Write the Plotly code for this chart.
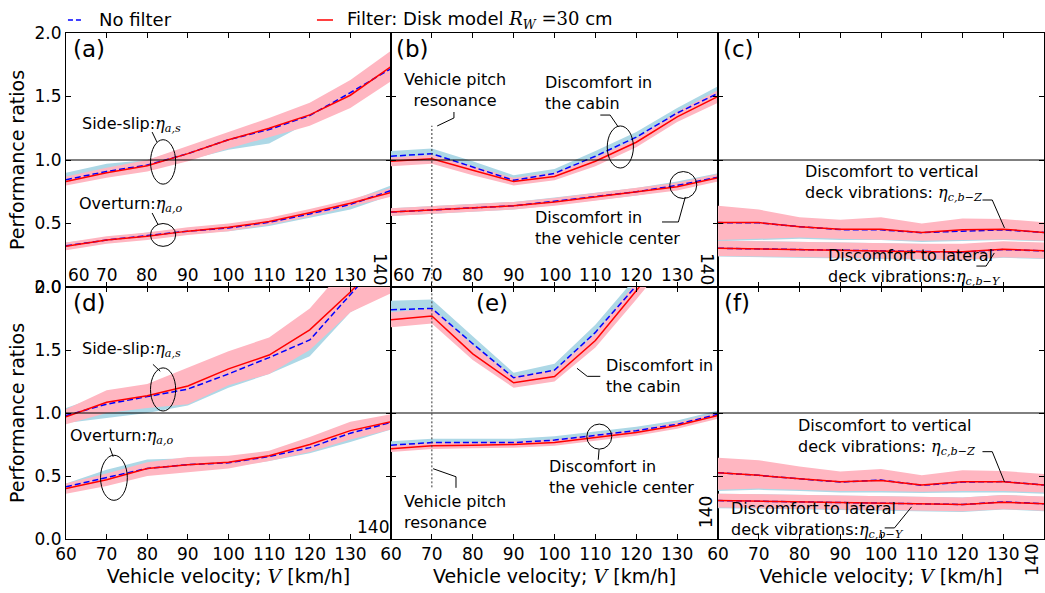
import plotly.graph_objects as go
from plotly.subplots import make_subplots

V = [60, 70, 80, 90, 100, 110, 120, 130, 140]
TICK_LABELS = ["60", "70", "80", "90", "100", "110", "120", "130"]

# ---- (a) aerodynamic safety, weak wind ----
a_ss_nf = [0.845, 0.91, 0.96, 1.05, 1.16, 1.24, 1.35, 1.53, 1.72]
a_ss_nf_lo = [0.82, 0.88, 0.93, 1.00, 1.08, 1.13, 1.30, 1.47, 1.65]
a_ss_nf_hi = [0.90, 0.97, 1.00, 1.10, 1.21, 1.32, 1.42, 1.60, 1.80]
a_ss_f = [0.83, 0.90, 0.955, 1.05, 1.16, 1.25, 1.355, 1.51, 1.735]
a_ss_f_lo = [0.80, 0.86, 0.91, 0.99, 1.09, 1.18, 1.27, 1.41, 1.62]
a_ss_f_hi = [0.87, 0.94, 1.00, 1.11, 1.22, 1.33, 1.45, 1.63, 1.86]

a_ov_nf = [0.325, 0.37, 0.405, 0.44, 0.465, 0.51, 0.575, 0.65, 0.76]
a_ov_nf_lo = [0.30, 0.345, 0.38, 0.42, 0.44, 0.48, 0.545, 0.61, 0.72]
a_ov_nf_hi = [0.35, 0.39, 0.43, 0.46, 0.49, 0.53, 0.60, 0.68, 0.80]
a_ov_f = [0.32, 0.37, 0.40, 0.44, 0.47, 0.515, 0.585, 0.66, 0.745]
a_ov_f_lo = [0.29, 0.34, 0.37, 0.41, 0.44, 0.49, 0.555, 0.63, 0.71]
a_ov_f_hi = [0.35, 0.40, 0.43, 0.47, 0.50, 0.545, 0.615, 0.69, 0.78]

# ---- (b) comfort ----
b_cab_nf = [1.03, 1.05, 0.945, 0.84, 0.895, 1.03, 1.18, 1.37, 1.525]
b_cab_nf_lo = [0.99, 1.01, 0.91, 0.81, 0.86, 0.99, 1.14, 1.33, 1.48]
b_cab_nf_hi = [1.07, 1.09, 0.99, 0.88, 0.93, 1.07, 1.22, 1.41, 1.58]
b_cab_f = [0.99, 1.01, 0.92, 0.83, 0.87, 0.99, 1.14, 1.34, 1.50]
b_cab_f_lo = [0.95, 0.97, 0.88, 0.80, 0.84, 0.95, 1.10, 1.30, 1.45]
b_cab_f_hi = [1.02, 1.04, 0.95, 0.86, 0.90, 1.02, 1.17, 1.38, 1.55]

b_ctr_nf = [0.59, 0.605, 0.625, 0.64, 0.675, 0.715, 0.75, 0.80, 0.865]
b_ctr_nf_lo = [0.56, 0.575, 0.595, 0.61, 0.645, 0.685, 0.72, 0.77, 0.835]
b_ctr_nf_hi = [0.62, 0.635, 0.655, 0.67, 0.705, 0.745, 0.78, 0.83, 0.895]
b_ctr_f = [0.59, 0.605, 0.625, 0.64, 0.67, 0.71, 0.745, 0.79, 0.86]
b_ctr_f_lo = [0.56, 0.575, 0.595, 0.61, 0.64, 0.68, 0.715, 0.76, 0.83]
b_ctr_f_hi = [0.62, 0.635, 0.655, 0.67, 0.70, 0.74, 0.775, 0.82, 0.89]

# ---- (c) bridge deck ----
c_z_nf = [0.507, 0.505, 0.475, 0.452, 0.45, 0.428, 0.44, 0.45, 0.43]
c_z_nf_lo = [0.36, 0.37, 0.38, 0.37, 0.37, 0.355, 0.36, 0.37, 0.36]
c_z_nf_hi = [0.63, 0.60, 0.54, 0.52, 0.54, 0.49, 0.53, 0.53, 0.50]
c_z_f = [0.507, 0.507, 0.475, 0.455, 0.455, 0.43, 0.45, 0.455, 0.43]
c_z_f_lo = [0.37, 0.38, 0.39, 0.38, 0.375, 0.365, 0.37, 0.375, 0.365]
c_z_f_hi = [0.64, 0.61, 0.55, 0.53, 0.55, 0.50, 0.54, 0.535, 0.51]

c_y_nf = [0.305, 0.30, 0.29, 0.286, 0.283, 0.276, 0.275, 0.295, 0.285]
c_y_nf_lo = [0.24, 0.235, 0.225, 0.22, 0.215, 0.21, 0.21, 0.23, 0.22]
c_y_nf_hi = [0.365, 0.36, 0.35, 0.345, 0.345, 0.34, 0.335, 0.355, 0.345]
c_y_f = [0.305, 0.30, 0.29, 0.286, 0.283, 0.278, 0.278, 0.297, 0.286]
c_y_f_lo = [0.245, 0.24, 0.23, 0.225, 0.22, 0.215, 0.215, 0.235, 0.225]
c_y_f_hi = [0.365, 0.36, 0.35, 0.345, 0.345, 0.34, 0.34, 0.36, 0.35]

# ---- (d) aerodynamic safety, strong wind ----
d_ss_nf = [0.98, 1.07, 1.13, 1.19, 1.31, 1.44, 1.58, 1.93, 2.30]
d_ss_nf_lo = [0.92, 0.96, 1.00, 1.06, 1.20, 1.31, 1.45, 1.80, 1.97]
d_ss_nf_hi = [1.04, 1.15, 1.22, 1.31, 1.44, 1.57, 1.72, 2.10, 2.45]
d_ss_f = [0.97, 1.085, 1.137, 1.215, 1.35, 1.46, 1.66, 1.96, 2.30]
d_ss_f_lo = [0.91, 1.00, 1.04, 1.07, 1.22, 1.31, 1.50, 1.80, 1.95]
d_ss_f_hi = [1.03, 1.18, 1.23, 1.36, 1.49, 1.60, 1.83, 2.20, 2.50]

d_ov_nf = [0.415, 0.49, 0.56, 0.59, 0.605, 0.655, 0.725, 0.84, 0.925]
d_ov_nf_lo = [0.37, 0.45, 0.52, 0.55, 0.57, 0.62, 0.68, 0.77, 0.87]
d_ov_nf_hi = [0.44, 0.55, 0.63, 0.64, 0.65, 0.69, 0.77, 0.88, 0.96]
d_ov_f = [0.40, 0.47, 0.56, 0.59, 0.61, 0.66, 0.75, 0.86, 0.93]
d_ov_f_lo = [0.36, 0.42, 0.50, 0.53, 0.56, 0.62, 0.69, 0.79, 0.87]
d_ov_f_hi = [0.44, 0.52, 0.61, 0.65, 0.66, 0.70, 0.81, 0.93, 0.99]

# ---- (e) comfort ----
e_cab_nf = [1.82, 1.83, 1.55, 1.28, 1.34, 1.64, 2.01, 2.45, 2.85]
e_cab_nf_lo = [1.76, 1.77, 1.50, 1.25, 1.30, 1.59, 1.96, 2.40, 2.80]
e_cab_nf_hi = [1.89, 1.90, 1.61, 1.32, 1.39, 1.70, 2.08, 2.50, 2.90]
e_cab_f = [1.74, 1.77, 1.47, 1.24, 1.29, 1.575, 1.97, 2.40, 2.80]
e_cab_f_lo = [1.68, 1.71, 1.42, 1.20, 1.25, 1.52, 1.90, 2.30, 2.70]
e_cab_f_hi = [1.80, 1.83, 1.54, 1.29, 1.34, 1.63, 2.04, 2.50, 2.90]

e_ctr_nf = [0.745, 0.765, 0.765, 0.765, 0.785, 0.82, 0.86, 0.91, 0.99]
e_ctr_nf_lo = [0.72, 0.74, 0.74, 0.74, 0.76, 0.795, 0.835, 0.885, 0.965]
e_ctr_nf_hi = [0.775, 0.795, 0.795, 0.795, 0.815, 0.85, 0.89, 0.94, 1.02]
e_ctr_f = [0.717, 0.74, 0.745, 0.75, 0.765, 0.805, 0.845, 0.90, 0.98]
e_ctr_f_lo = [0.69, 0.715, 0.72, 0.725, 0.74, 0.78, 0.82, 0.875, 0.955]
e_ctr_f_hi = [0.745, 0.765, 0.77, 0.775, 0.79, 0.83, 0.87, 0.925, 1.005]

# ---- (f) bridge deck ----
f_z_nf = [0.526, 0.505, 0.478, 0.452, 0.468, 0.426, 0.452, 0.456, 0.428]
f_z_nf_lo = [0.38, 0.39, 0.38, 0.37, 0.37, 0.365, 0.37, 0.37, 0.36]
f_z_nf_hi = [0.635, 0.615, 0.565, 0.525, 0.545, 0.495, 0.535, 0.53, 0.505]
f_z_f = [0.526, 0.505, 0.478, 0.454, 0.465, 0.428, 0.454, 0.454, 0.428]
f_z_f_lo = [0.39, 0.40, 0.39, 0.38, 0.38, 0.375, 0.38, 0.38, 0.37]
f_z_f_hi = [0.645, 0.625, 0.575, 0.535, 0.555, 0.505, 0.545, 0.54, 0.515]

f_y_nf = [0.305, 0.30, 0.295, 0.292, 0.287, 0.279, 0.274, 0.294, 0.28]
f_y_nf_lo = [0.245, 0.24, 0.235, 0.232, 0.227, 0.22, 0.215, 0.235, 0.22]
f_y_nf_hi = [0.36, 0.355, 0.35, 0.347, 0.342, 0.335, 0.33, 0.35, 0.335]
f_y_f = [0.305, 0.30, 0.295, 0.292, 0.287, 0.279, 0.274, 0.292, 0.28]
f_y_f_lo = [0.25, 0.245, 0.24, 0.237, 0.232, 0.225, 0.22, 0.237, 0.225]
f_y_f_hi = [0.36, 0.355, 0.35, 0.347, 0.342, 0.335, 0.33, 0.35, 0.337]

PINK = "#FFB6C1"
LBLUE = "#ADD8E6"
FONT = "DejaVu Sans"
SERIF = "DejaVu Serif"

panels = {
    (1, 1): [(a_ss_nf, a_ss_nf_lo, a_ss_nf_hi, a_ss_f, a_ss_f_lo, a_ss_f_hi),
             (a_ov_nf, a_ov_nf_lo, a_ov_nf_hi, a_ov_f, a_ov_f_lo, a_ov_f_hi)],
    (1, 2): [(b_cab_nf, b_cab_nf_lo, b_cab_nf_hi, b_cab_f, b_cab_f_lo, b_cab_f_hi),
             (b_ctr_nf, b_ctr_nf_lo, b_ctr_nf_hi, b_ctr_f, b_ctr_f_lo, b_ctr_f_hi)],
    (1, 3): [(c_z_nf, c_z_nf_lo, c_z_nf_hi, c_z_f, c_z_f_lo, c_z_f_hi),
             (c_y_nf, c_y_nf_lo, c_y_nf_hi, c_y_f, c_y_f_lo, c_y_f_hi)],
    (2, 1): [(d_ss_nf, d_ss_nf_lo, d_ss_nf_hi, d_ss_f, d_ss_f_lo, d_ss_f_hi),
             (d_ov_nf, d_ov_nf_lo, d_ov_nf_hi, d_ov_f, d_ov_f_lo, d_ov_f_hi)],
    (2, 2): [(e_cab_nf, e_cab_nf_lo, e_cab_nf_hi, e_cab_f, e_cab_f_lo, e_cab_f_hi),
             (e_ctr_nf, e_ctr_nf_lo, e_ctr_nf_hi, e_ctr_f, e_ctr_f_lo, e_ctr_f_hi)],
    (2, 3): [(f_z_nf, f_z_nf_lo, f_z_nf_hi, f_z_f, f_z_f_lo, f_z_f_hi),
             (f_y_nf, f_y_nf_lo, f_y_nf_hi, f_y_f, f_y_f_lo, f_y_f_hi)],
}

fig = make_subplots(rows=2, cols=3, horizontal_spacing=0, vertical_spacing=0)


def band(lo, hi, color, r, c):
    fig.add_trace(go.Scatter(x=V, y=lo, mode="lines", line=dict(width=0, color=color),
                             showlegend=False, hoverinfo="skip"), row=r, col=c)
    fig.add_trace(go.Scatter(x=V, y=hi, mode="lines", line=dict(width=0, color=color),
                             fill="tonexty", fillcolor=color, showlegend=False,
                             hoverinfo="skip"), row=r, col=c)


for (r, c), series in panels.items():
    for nf, nflo, nfhi, f, flo, fhi in series:
        band(nflo, nfhi, LBLUE, r, c)
        band(flo, fhi, PINK, r, c)
    for nf, nflo, nfhi, f, flo, fhi in series:
        fig.add_trace(go.Scatter(x=V, y=nf, mode="lines",
                                 line=dict(color="blue", width=1.5, dash="6px,3px"),
                                 showlegend=False), row=r, col=c)
        fig.add_trace(go.Scatter(x=V, y=f, mode="lines",
                                 line=dict(color="red", width=1.5),
                                 showlegend=False), row=r, col=c)

col_dom = [[0, 0.3323], [0.3323, 0.6667], [0.6667, 1.0]]
row_dom = {1: [0.498, 1.0], 2: [0.0, 0.498]}

for r in (1, 2):
    for c in (1, 2, 3):
        idx = (r - 1) * 3 + c
        xa = "xaxis" if idx == 1 else f"xaxis{idx}"
        ya = "yaxis" if idx == 1 else f"yaxis{idx}"
        fig.layout[xa].update(
            domain=col_dom[c - 1], range=[60, 140], tickvals=V,
            ticktext=TICK_LABELS + [""], ticks="inside", ticklen=5,
            tickcolor="black", showline=True, linecolor="black", linewidth=1,
            mirror="ticks", showgrid=False, zeroline=False,
            showticklabels=(r == 2),
            tickfont=dict(family=FONT, size=17, color="black"),
        )
        fig.layout[ya].update(
            domain=row_dom[r], range=[0, 2], tickvals=[0, 0.5, 1.0, 1.5, 2.0],
            tickformat=".1f", ticks="inside", ticklen=5, tickcolor="black",
            showline=True, linecolor="black", linewidth=1, mirror="ticks",
            showgrid=False, zeroline=False, showticklabels=(c == 1),
            tickfont=dict(family=FONT, size=17, color="black"),
        )
        if c == 1:
            fig.layout[ya].title = dict(text="Performance ratios", standoff=4,
                                        font=dict(family=FONT, size=19, color="black"))
        if r == 2:
            fig.layout[xa].title = dict(
                text=f'Vehicle velocity; <span style="font-family:{SERIF}"><i>V</i></span> [km/h]',
                standoff=6, font=dict(family=FONT, size=19, color="black"))


def eta(sub):
    return f'<span style="font-family:{SERIF}"><i>η</i><sub><i>{sub}</i></sub></span>'


shapes = []
BL = dict(color="black", width=1)
# horizontal reference line at ratio 1
shapes.append(dict(type="line", xref="paper", yref="y", x0=0, x1=1, y0=1, y1=1, line=BL))
shapes.append(dict(type="line", xref="paper", yref="y4", x0=0, x1=1, y0=1, y1=1, line=BL))
# pitch resonance markers
shapes.append(dict(type="line", xref="x2", yref="y2", x0=70, x1=70, y0=0, y1=1.27,
                   line=dict(color="#333", width=1, dash="2px,2px")))
shapes.append(dict(type="line", xref="x5", yref="y5", x0=70, x1=70, y0=0.41, y1=2.0,
                   line=dict(color="#333", width=1, dash="2px,2px")))
# ellipses
ellipses = [
    ("x", "y", 80.8, 0.81, 87.0, 1.16),
    ("x", "y", 80.8, 0.32, 87.0, 0.50),
    ("x2", "y2", 112.9, 0.937, 119.3, 1.268),
    ("x2", "y2", 128.2, 0.697, 134.8, 0.909),
    ("x4", "y4", 80.8, 1.016, 87.0, 1.358),
    ("x4", "y4", 68.5, 0.307, 75.1, 0.665),
    ("x5", "y5", 107.9, 0.713, 114.0, 0.912),
]
for xr, yr, x0, y0, x1, y1 in ellipses:
    shapes.append(dict(type="circle", xref=xr, yref=yr, x0=x0, y0=y0, x1=x1, y1=y1, line=BL))
# leader lines
leaders = [
    ("x", "y", "M81.2,1.22 L82.4,1.14"),
    ("x", "y", "M81.2,0.583 L82.7,0.488"),
    ("x2", "y2", "M75.4,1.378 L75.4,1.331 L71.3,1.268"),
    ("x2", "y2", "M111.2,1.354 L113.6,1.354 L115.6,1.26"),
    ("x2", "y2", "M132.0,0.709 L130.3,0.512 L126.3,0.512"),
    ("x3", "y3", "M124.9,0.685 L127.3,0.685 L130.3,0.465"),
    ("x3", "y3", "M123.4,0.165 L125.8,0.165 L127.8,0.268"),
    ("x4", "y4", "M81.4,1.386 L83.2,1.331"),
    ("x4", "y4", "M70.8,0.725 L71.6,0.653"),
    ("x5", "y5", "M111.2,1.291 L108.0,1.291 L105.5,1.355"),
    ("x5", "y5", "M110.9,0.709 L110.7,0.629"),
    ("x5", "y5", "M70.3,0.558 L75.9,0.494 L75.9,0.406"),
    ("x6", "y6", "M124.9,0.693 L127.3,0.693 L130.3,0.454"),
    ("x6", "y6", "M100.9,0.088 L103.3,0.088 L107.5,0.255"),
]
for xr, yr, p in leaders:
    shapes.append(dict(type="path", xref=xr, yref=yr, path=p, line=BL))

# legend keys (paper coords)
shapes.append(dict(type="line", xref="paper", yref="paper", x0=0.002, x1=0.0165,
                   y0=1.0257, y1=1.0257, line=dict(color="blue", width=1.5, dash="5px,3px")))
shapes.append(dict(type="line", xref="paper", yref="paper", x0=0.2566, x1=0.2730,
                   y0=1.0257, y1=1.0257, line=dict(color="red", width=1.5)))

ann = []


def text(xr, yr, x, y, t, size=16, xanchor="left", align="left", angle=0, yanchor="middle",
         xshift=0, yshift=0):
    ann.append(dict(xref=xr, yref=yr, x=x, y=y, text=t, showarrow=False, xanchor=xanchor,
                    yanchor=yanchor, align=align, textangle=angle, xshift=xshift,
                    yshift=yshift, font=dict(family=FONT, size=size, color="black")))


# panel labels
for lab, xr, yr, xd in [("(a)", "x domain", "y domain", 0.016), ("(b)", "x2 domain", "y2 domain", 0.01),
                        ("(c)", "x3 domain", "y3 domain", 0.01), ("(d)", "x4 domain", "y4 domain", 0.016),
                        ("(e)", "x5 domain", "y5 domain", 0.255), ("(f)", "x6 domain", "y6 domain", 0.012)]:
    text(xr, yr, xd, 0.995, lab, size=23, yanchor="top")

# top row tick labels drawn inside the panels
for xr, yr in [("x", "y"), ("x2", "y2")]:
    for v, lab in zip(V[:-1], TICK_LABELS):
        if v == 60:
            text(xr, yr, v, 0, lab, size=17, xanchor="left", yanchor="bottom", xshift=0)
        else:
            text(xr, yr, v, 0, lab, size=17, xanchor="center", yanchor="bottom")
    text(xr, yr, 140, 0, "140", size=17, xanchor="right", yanchor="bottom", angle=90, xshift=1)
# odd placements of the "140" label in the bottom row
text("x4", "y4", 140, 0, "140", size=17, xanchor="right", yanchor="bottom")
text("x5", "y5", 140, 0, "140", size=17, xanchor="right", yanchor="bottom", angle=-90, yshift=9)
text("x6", "y6", 140, 0, "140", size=17, xanchor="right", yanchor="top", angle=-90, yshift=-3)

# annotations
text("x", "y", 63.4, 1.276, "Side-slip:" + eta("a,s"))
text("x", "y", 62.7, 0.646, "Overturn:" + eta("a,o"))
text("x2", "y2", 75.7, 1.55, "Vehicle pitch<br>resonance", xanchor="center", align="center")
text("x2", "y2", 97.2, 1.53, "Discomfort in<br>the cabin")
text("x2", "y2", 94.8, 0.465, "Discomfort in<br>the vehicle center")
text("x3", "y3", 80.8, 0.819, "Discomfort to vertical<br>deck vibrations: " + eta("c,b−Z"))
text("x3", "y3", 86.4, 0.157, "Discomfort to lateral<br>deck vibrations:" + eta("c,b−Y"))
text("x4", "y4", 63.4, 1.506, "Side-slip:" + eta("a,s"))
text("x4", "y4", 60.5, 0.813, "Overturn:" + eta("a,o"))
text("x5", "y5", 112.1, 1.291, "Discomfort in<br>the cabin")
text("x5", "y5", 98.2, 0.494, "Discomfort in<br>the vehicle center")
text("x5", "y5", 62.7, 0.215, "Vehicle pitch<br>resonance")
text("x6", "y6", 79.1, 0.813, "Discomfort to vertical<br>deck vibrations: " + eta("c,b−Z"))
text("x6", "y6", 62.7, 0.151, "Discomfort to lateral<br>deck vibrations:" + eta("c,b−Y"))

# legend text
text("paper", "paper", 0.0317, 1.0257, "No filter", size=18)
text("paper", "paper", 0.2853, 1.0257,
     f'Filter: Disk model <span style="font-family:{SERIF}"><i>R</i><sub><i>W</i></sub> =30</span> cm',
     size=18)

fig.update_layout(
    width=1045, height=593,
    margin=dict(l=66, r=1, t=33, b=54),
    paper_bgcolor="white", plot_bgcolor="white",
    font=dict(family=FONT, size=16, color="black"),
    showlegend=False,
    shapes=shapes, annotations=ann,
)

fig.write_html("out.html")
